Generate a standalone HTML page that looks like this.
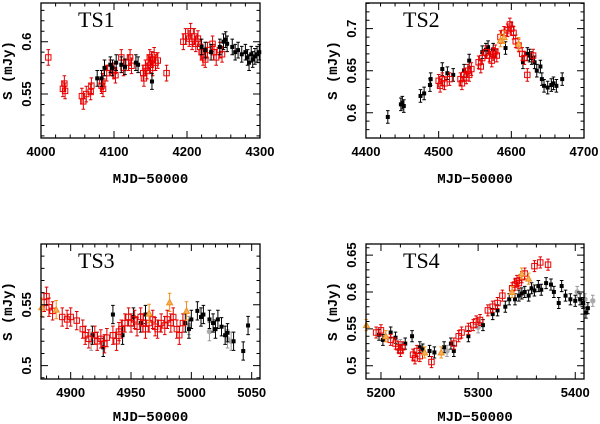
<!DOCTYPE html>
<html><head><meta charset="utf-8"><style>
body{margin:0;background:#fff}
svg{display:block}
.tk{font-family:"Liberation Sans",sans-serif;font-weight:bold;font-size:13px;fill:#000}
.ax{font-family:"Liberation Mono",monospace;font-weight:bold;font-size:14px;fill:#000}
.ts{font-family:"Liberation Serif",serif;font-size:22px;fill:#000}
</style></head><body>
<svg id="c" width="600" height="424" viewBox="0 0 600 424"></svg>
<script>
const ts1Black=[[4077,.565],[4083,.565],[4087,.575],[4095,.578],[4098,.575],[4103,.580],[4110,.578],[4115,.576],[4130,.580],[4133,.578],[4152,.562],[4220,.595],[4225,.592],[4233,.590],[4245,.595],[4250,.600],[4253,.602],[4255,.598],[4262,.595],[4266,.590],[4270,.592],[4275,.588],[4280,.590],[4283,.585],[4285,.580],[4288,.588],[4290,.583],[4293,.586],[4296,.588],[4299,.590]];
const ts1Red=[[4010,.585],[4030,.555],[4032,.560],[4033,.553],[4056,.548],[4058,.543],[4062,.550],[4068,.552],[4069,.558],[4083,.558],[4084,.562],[4085,.555],[4090,.570],[4095,.575],[4100,.572],[4102,.568],[4110,.585],[4113,.575],[4120,.580],[4122,.585],[4124,.577],[4140,.570],[4141,.565],[4143,.575],[4145,.572],[4147,.580],[4149,.585],[4150,.578],[4152,.583],[4153,.575],[4155,.587],[4157,.580],[4160,.582],[4172,.570],[4195,.600],[4198,.605],[4203,.603],[4205,.610],[4207,.600],[4210,.605],[4212,.598],[4215,.603],[4218,.595],[4220,.590],[4222,.585],[4225,.583],[4228,.592],[4235,.598],[4237,.590],[4240,.585],[4245,.592],[4248,.588]];
const ts2Black=[[4430,.595],[4448,.610],[4450,.612],[4452,.608],[4475,.620],[4480,.623],[4488,.633],[4489,.640],[4505,.652],[4512,.647],[4520,.645],[4535,.650],[4542,.662],[4560,.672],[4565,.675],[4568,.678],[4575,.675],[4592,.677],[4616,.660],[4622,.670],[4625,.668],[4628,.665],[4632,.660],[4635,.650],[4640,.655],[4642,.640],[4645,.632],[4650,.630],[4655,.633],[4658,.635],[4662,.632],[4670,.640]];
const ts2Red=[[4500,.638],[4502,.632],[4505,.640],[4508,.635],[4515,.640],[4530,.640],[4532,.635],[4535,.645],[4538,.642],[4540,.650],[4542,.645],[4545,.652],[4555,.660],[4558,.655],[4560,.665],[4565,.672],[4570,.668],[4573,.662],[4575,.670],[4578,.673],[4580,.668],[4585,.690],[4590,.695],[4595,.698],[4598,.705],[4600,.700],[4603,.695],[4606,.685],[4610,.680],[4615,.670],[4618,.665],[4622,.645],[4630,.668]];
const ts2Orange=[[4585,.686],[4590,.690],[4610,.682]];
const ts3Black=[[4918,.525],[4927,.515],[4935,.542],[4943,.525],[4952,.540],[4958,.535],[4962,.542],[4995,.535],[4998,.530],[5000,.538],[5005,.545],[5008,.540],[5010,.542],[5015,.538],[5018,.535],[5020,.530],[5022,.538],[5025,.532],[5028,.525],[5030,.527],[5035,.520],[5043,.512],[5047,.533]];
const ts3Red=[[4878,.552],[4880,.557],[4882,.548],[4885,.545],[4893,.540],[4897,.538],[4900,.540],[4905,.537],[4910,.530],[4912,.525],[4915,.522],[4920,.525],[4922,.520],[4925,.522],[4928,.518],[4930,.523],[4935,.525],[4938,.520],[4940,.528],[4942,.530],[4945,.535],[4948,.540],[4950,.535],[4953,.538],[4955,.532],[4958,.540],[4960,.535],[4962,.530],[4965,.535],[4968,.538],[4970,.532],[4972,.530],[4975,.535],[4978,.533],[4980,.538],[4983,.535],[4985,.540],[4988,.530],[4990,.525],[4993,.535]];
const ts3Orange=[[4876,.548],[4888,.546],[4965,.543],[4982,.552],[4996,.545]];
const ts3Gray=[[4917,.520],[4998,.533],[5015,.528],[5030,.522],[5033,.520]];
const ts4Black=[[5198,.542],[5202,.535],[5210,.545],[5215,.538],[5225,.530],[5232,.540],[5240,.525],[5243,.522],[5250,.520],[5255,.518],[5265,.525],[5272,.530],[5275,.520],[5290,.540],[5305,.555],[5315,.570],[5320,.575],[5328,.580],[5332,.590],[5338,.590],[5342,.595],[5345,.598],[5348,.600],[5352,.595],[5355,.605],[5358,.602],[5362,.608],[5365,.603],[5370,.612],[5375,.610],[5378,.600],[5383,.585],[5386,.608],[5390,.595],[5395,.590],[5400,.588],[5405,.590],[5408,.585],[5411,.572],[5413,.578]];
const ts4Red=[[5195,.545],[5200,.548],[5210,.535],[5215,.530],[5218,.525],[5220,.520],[5222,.525],[5233,.515],[5235,.510],[5237,.520],[5240,.513],[5252,.505],[5275,.530],[5280,.540],[5283,.545],[5290,.550],[5295,.555],[5298,.560],[5302,.562],[5310,.575],[5315,.580],[5320,.585],[5325,.595],[5335,.605],[5338,.610],[5340,.615],[5342,.612],[5345,.620],[5348,.625],[5358,.635],[5364,.640],[5372,.637]];
const ts4Orange=[[5185,.555],[5205,.540],[5245,.518],[5262,.518],[5335,.600],[5345,.625],[5352,.618]];
const ts4Gray=[[5220,.528],[5268,.520],[5300,.552],[5402,.600],[5410,.590],[5418,.588]];
const panelNames=["TS1","TS2","TS3","TS4"];
const xTicks=[[4000,4100,4200,4300],[4400,4500,4600,4700],[4900,4950,5000,5050],[5200,5300,5400]];
const yTicks=[[0.55,0.6],[0.6,0.65,0.7],[0.5,0.55],[0.5,0.55,0.6,0.65]];
const yTickLabels=[["0.55","0.6"],["0.6","0.65","0.7"],["0.5","0.55"],["0.5","0.55","0.6","0.65"]];

const NS="http://www.w3.org/2000/svg";
const svg=document.getElementById('c');
function mk(tag,at,parent){const e=document.createElementNS(NS,tag);for(const k in at)e.setAttribute(k,at[k]);(parent||svg).appendChild(e);return e;}
const panels=[
 {x0:41,x1:260,y0:3,y1:138,xmin:4000,xmax:4300,ymin:0.508,ymax:0.637,xm:20,ym:0.01,tl:156,tt:183,lab:27,series:[[ts1Red,'red'],[ts1Black,'black']]},
 {x0:366,x1:584,y0:3,y1:138,xmin:4400,xmax:4700,ymin:0.570,ymax:0.7305,xm:20,ym:0.01,tl:156,tt:183,lab:27,series:[[ts2Black,'black'],[ts2Red,'red'],[ts2Orange,'orange']]},
 {x0:41,x1:260,y0:244,y1:379,xmin:4875.4,xmax:5056.9,ymin:0.489,ymax:0.600,xm:10,ym:0.01,tl:397,tt:421,lab:268,series:[[ts3Gray,'gray'],[ts3Black,'black'],[ts3Red,'red'],[ts3Orange,'orange']]},
 {x0:366,x1:584,y0:244,y1:379,xmin:5184.6,xmax:5409,ymin:0.482,ymax:0.665,xm:20,ym:0.01,tl:397,tt:421,lab:268,series:[[ts4Gray,'gray'],[ts4Black,'black'],[ts4Red,'red'],[ts4Orange,'orange']]}
];
panels.forEach((p,i)=>{
 const g=mk('g',{});
 
 
 const X=v=>p.x0+(v-p.xmin)/(p.xmax-p.xmin)*(p.x1-p.x0);
 const Y=v=>p.y1-(v-p.ymin)/(p.ymax-p.ymin)*(p.y1-p.y0);
 p.series.forEach(([arr,col])=>{
  const sg=mk('g',{},g);
  
  
  const c={black:'#000',red:'#e00',orange:'#f0901a',gray:'#aaa'}[col];
  const ec={black:'#000',red:'#d00',orange:'#f0901a',gray:'#999'}[col];
  arr.forEach(([x,y])=>{
   const cx=X(x),cy=Y(y),e=Y(y+0.0075)-cy;
   mk('path',{d:`M${cx} ${cy+e}V${cy-e}M${cx-1.8} ${cy+e}h3.6M${cx-1.8} ${cy-e}h3.6`,stroke:ec,'stroke-width':1,fill:'none'},sg);
   if(col==='red') mk('rect',{x:cx-2.7,y:cy-2.7,width:5.4,height:5.4,fill:'none',stroke:c,'stroke-width':1},sg);
   else if(col==='orange') mk('path',{d:`M${cx} ${cy-3}L${cx+3} ${cy+2.5}L${cx-3} ${cy+2.5}Z`,fill:'#f7b060',stroke:c},sg);
   else if(col==='gray') mk('circle',{cx,cy,r:2.7,fill:c},sg);
   else mk('rect',{x:cx-2,y:cy-2,width:4,height:4,fill:c},sg);
  });
 });
 const fr=mk('rect',{x:p.x0,y:p.y0,width:p.x1-p.x0,height:p.y1-p.y0,fill:'none',stroke:'#000','stroke-width':1.3},g);
 
 
 let d='';
 for(let v=Math.ceil(p.xmin/p.xm)*p.xm;v<=p.xmax;v+=p.xm){const x=X(v);const L=(Math.round(v)%(xTicks[i][1]-xTicks[i][0])===0)?7:3.5;d+=`M${x} ${p.y1}v${-L}M${x} ${p.y0}v${L}`;}
 for(let k=Math.ceil(p.ymin/p.ym-1e-6);k*p.ym<=p.ymax+1e-9;k++){const y=Y(k*p.ym);const L=(k%5===0)?7:3.5;d+=`M${p.x0} ${y}h${L}M${p.x1} ${y}h${-L}`;}
 mk('path',{d,stroke:'#000','stroke-width':1,fill:'none'},g);
 xTicks[i].forEach(v=>{const t=mk('text',{x:X(v),y:p.tl,'text-anchor':'middle',class:'tk'},g);t.textContent=v;
  });
 yTicks[i].forEach((v,j)=>{const tx=p.x0-10,ty=Y(v);const t=mk('text',{x:tx,y:ty,'text-anchor':'middle',transform:`rotate(-90 ${tx} ${ty})`,class:'tk'},g);t.textContent=yTickLabels[i][j];
  });
 const xt=mk('text',{x:(p.x0+p.x1)/2,y:p.tt,'text-anchor':'middle',class:'ax'},g);xt.textContent='MJD\u221250000';
 
 const yx=p.x0-29,yy=(p.y0+p.y1)/2;
 const yt=mk('text',{x:yx,y:yy,'text-anchor':'middle',transform:`rotate(-90 ${yx} ${yy})`,class:'ax'},g);yt.textContent='S (mJy)';
 
 const tl=mk('text',{x:p.x0+37,y:p.lab,class:'ts'},g);tl.textContent=panelNames[i];
 
});
</script>
</body></html>
